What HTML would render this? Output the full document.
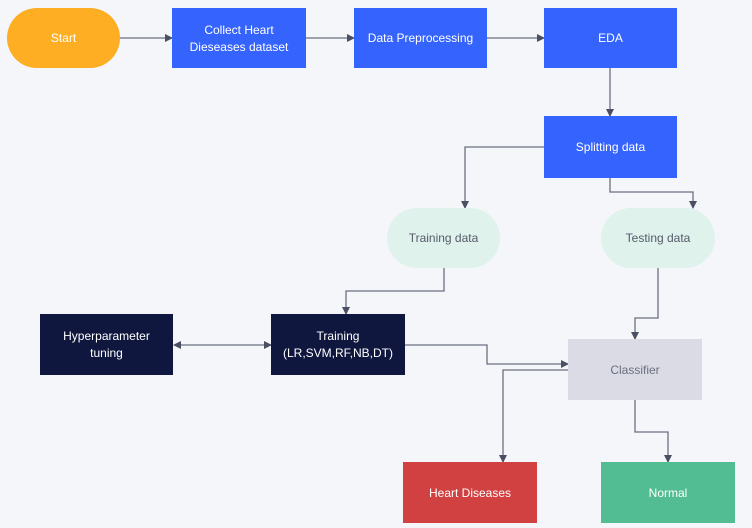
<!DOCTYPE html>
<html><head><meta charset="utf-8"><style>
body{margin:0;background:#f5f6fa;}
svg{display:block;font-family:"Liberation Sans",sans-serif;font-size:12px;}
</style></head><body>
<svg width="752" height="528" viewBox="0 0 752 528">
<defs><marker id="a" markerWidth="8" markerHeight="8" refX="7" refY="4" orient="auto-start-reverse" markerUnits="userSpaceOnUse"><path d="M0,0 L8,4 L0,8 Z" fill="#4a4f63"/></marker></defs>
<rect x="0" y="0" width="752" height="528" fill="#f5f6fa"/>
<g fill="none" stroke="#6b7080" stroke-width="1.3" marker-end="url(#a)">
<path d="M120,38 H172"/>
<path d="M306,38 H354"/>
<path d="M487,38 H544"/>
<path d="M610,68 V116"/>
<path d="M544,147 H465 V208"/>
<path d="M610,178 V192 H693 V208"/>
<path d="M444,268 V291 H346 V314"/>
<path d="M658,268 V318 H635 V339"/>
<path d="M405,345 H487 V364 H568"/>
<path d="M568,370 H503 V462"/>
<path d="M635,400 V432 H668 V462"/>
<path d="M174,345 H271" marker-start="url(#a)"/>
</g>
<rect x="7" y="8" width="113" height="60" rx="30" fill="#fdae22"/>
<text x="63.5" y="42" fill="#fff" text-anchor="middle">Start</text>
<rect x="172" y="8" width="134" height="60" fill="#3563fd"/>
<text x="239" y="34" fill="#fff" text-anchor="middle">Collect Heart</text>
<text x="239" y="51" fill="#fff" text-anchor="middle">Dieseases dataset</text>
<rect x="354" y="8" width="133" height="60" fill="#3563fd"/>
<text x="420.5" y="42" fill="#fff" text-anchor="middle">Data Preprocessing</text>
<rect x="544" y="8" width="133" height="60" fill="#3563fd"/>
<text x="610.5" y="42" fill="#fff" text-anchor="middle">EDA</text>
<rect x="544" y="116" width="133" height="62" fill="#3563fd"/>
<text x="610.5" y="151" fill="#fff" text-anchor="middle">Splitting data</text>
<rect x="387" y="208" width="113" height="60" rx="30" fill="#dff2eb"/>
<text x="443.5" y="242" fill="#555b6b" text-anchor="middle">Training data</text>
<rect x="601" y="208" width="114" height="60" rx="30" fill="#dff2eb"/>
<text x="658" y="242" fill="#555b6b" text-anchor="middle">Testing data</text>
<rect x="40" y="314" width="133" height="61" fill="#10173f"/>
<text x="106.5" y="340" fill="#fff" text-anchor="middle">Hyperparameter</text>
<text x="106.5" y="357" fill="#fff" text-anchor="middle">tuning</text>
<rect x="271" y="314" width="134" height="61" fill="#10173f"/>
<text x="338" y="340" fill="#fff" text-anchor="middle">Training</text>
<text x="338" y="357" fill="#fff" text-anchor="middle">(LR,SVM,RF,NB,DT)</text>
<rect x="568" y="339" width="134" height="61" fill="#dadbe5"/>
<text x="635" y="374" fill="#6b7080" text-anchor="middle">Classifier</text>
<rect x="403" y="462" width="134" height="61" fill="#d24142"/>
<text x="470" y="497" fill="#fff" text-anchor="middle">Heart Diseases</text>
<rect x="601" y="462" width="134" height="61" fill="#52bd92"/>
<text x="668" y="497" fill="#fff" text-anchor="middle">Normal</text>
</svg>
</body></html>
